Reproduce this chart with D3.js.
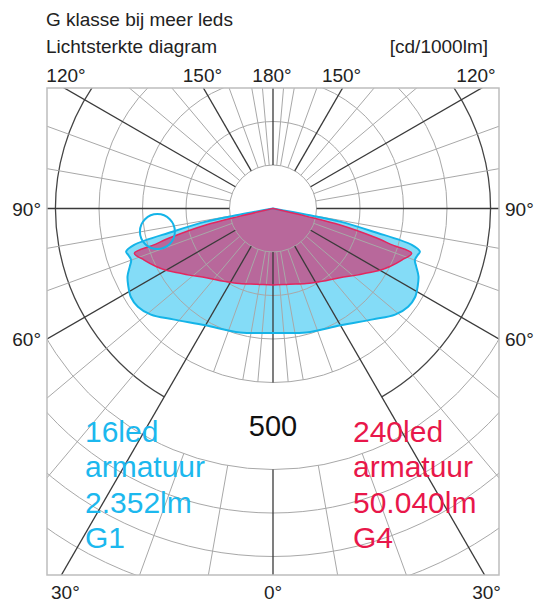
<!DOCTYPE html>
<html>
<head>
<meta charset="utf-8">
<script src="https://cdn.jsdelivr.net/npm/d3@7"></script>
<style>
  body { margin: 0; background: #fff; }
  text { font-family: Arial, "Liberation Sans", sans-serif; }
</style>
</head>
<body>
<div id="chart-area"></div>
<script>
// data: angle from nadir (deg) and intensity (cd/1000lm), symmetric curves
const g1Angles = [0, 15, 30, 42, 49, 54, 58, 62, 65, 68, 70, 72, 73.6, 75.3, 77, 78.9, 79.5, 80]
const g1Values = [286, 295, 310, 343, 372, 384, 385, 377, 369, 355, 347, 349, 352, 330, 237, 157, 79, 0]
const g4Angles = [0, 12, 24, 34, 44, 51.5, 56, 60, 63.6, 68.2, 72.1, 73.0, 74.3, 76.2, 76.9, 77.6]
const g4Values = [176, 178, 189, 202, 221, 246, 264, 284, 300, 319, 335, 288, 240, 159, 80, 0]

const ringValues = [100, 200, 300, 400, 500, 600, 700, 800, 900]
const topLabels = [[-120, "120°"], [-150, "150°"], [180, "180°"], [150, "150°"], [120, "120°"]]
const sideLabels = [[90, "90°"], [60, "60°"]]
const bottomLabels = [[-30, "30°"], [0, "0°"], [30, "30°"]]
const g1Text = ["16led", "armatuur", "2.352lm", "G1"]
const g4Text = ["240led", "armatuur", "50.040lm", "G4"]
const scaleLabel = "500"

// layout
const W = 536, H = 604
const frame = { left: 47, right: 499, top: 88, bottom: 575 }
const cx = 273, cy = 208.5

const svg = d3.select("#chart-area").append("svg")
  .attr("width", W)
  .attr("height", H)

const r = d3.scaleLinear().domain([0, 1000]).range([0, 435])
const rad = d => d * Math.PI / 180

// polar point, angle measured from nadir, positive to the right
const pt = (a, v) => [cx + r(v) * Math.sin(rad(a)), cy + r(v) * Math.cos(rad(a))]

// titles
svg.append("text").attr("x", 46).attr("y", 26).attr("font-size", "19px").attr("fill", "#222")
  .text("G klasse bij meer leds")
svg.append("text").attr("x", 46).attr("y", 53).attr("font-size", "19px").attr("fill", "#222")
  .text("Lichtsterkte diagram")
svg.append("text").attr("x", 488).attr("y", 53).attr("font-size", "19px").attr("fill", "#222")
  .attr("text-anchor", "end").text("[cd/1000lm]")

svg.append("clipPath").attr("id", "frame-clip").append("rect")
  .attr("x", frame.left).attr("y", frame.top)
  .attr("width", frame.right - frame.left).attr("height", frame.bottom - frame.top)

const plot = svg.append("g").attr("clip-path", "url(#frame-clip)")

// curve shapes, mirrored around nadir
const radial = d3.lineRadial()
  .angle(d => d[0])
  .radius(d => r(d[1]))
  .curve(d3.curveCatmullRom.alpha(0.5))

function shape(angles, values) {
  const left = angles.map((a, i) => [Math.PI + rad(a), values[i]]).reverse()
  const right = angles.slice(1).map((a, i) => [Math.PI - rad(a), values[i + 1]])
  return radial(left.concat(right)) + "Z"
}

const curves = plot.append("g").attr("transform", `translate(${cx},${cy})`)
curves.append("path").attr("d", shape(g1Angles, g1Values)).attr("fill", "#84dcf7")
curves.append("path").attr("d", shape(g4Angles, g4Values)).attr("fill", "#b8689b")

// grid circles
const grid = plot.append("g")
ringValues.forEach(v => {
  if (v === 500) {
    // main ring, cut out around the "500" label
    const p = d3.path()
    const a0 = Math.PI / 2 + Math.PI / 6, a1 = Math.PI / 2 - Math.PI / 6 + 2 * Math.PI
    p.moveTo(cx + r(v) * Math.cos(a0), cy + r(v) * Math.sin(a0))
    p.arc(cx, cy, r(v), a0, a1)
    grid.append("path").attr("d", p.toString())
      .attr("fill", "none").attr("stroke", "#444").attr("stroke-width", 1.3)
  } else {
    grid.append("circle").attr("cx", cx).attr("cy", cy).attr("r", r(v))
      .attr("fill", "none").attr("stroke", "#a8a8a8").attr("stroke-width", 1)
  }
})

// spokes
const spokes = d3.range(-170, 190, 10).concat([-175, -5, 5, 175])
spokes.forEach(a => {
  const main = a % 30 === 0
  const inBand = Math.abs(a) < 30
  const segs = inBand ? [[100, 400], [600, 1100]] : [[100, 1100]]
  if (a % 10 !== 0) segs.splice(0, segs.length, [100, 400])
  segs.forEach(s => {
    const p0 = pt(a, s[0]), p1 = pt(a, s[1])
    grid.append("line")
      .attr("x1", p0[0]).attr("y1", p0[1]).attr("x2", p1[0]).attr("y2", p1[1])
      .attr("stroke", main ? "#3a3a3a" : "#a8a8a8")
      .attr("stroke-width", main ? 1.3 : 1)
  })
})

// curve outlines on top of grid
curves.raise()
curves.selectAll("path").remove()
curves.append("path").attr("d", shape(g1Angles, g1Values))
  .attr("fill", "#84dcf7").attr("fill-opacity", 0.0)
  .attr("stroke", "#14b4e8").attr("stroke-width", 2)
curves.append("path").attr("d", shape(g4Angles, g4Values))
  .attr("fill", "none").attr("stroke", "#e3275f").attr("stroke-width", 1.5)

// fills below grid
const fills = plot.insert("g", ":first-child").attr("transform", `translate(${cx},${cy})`)
fills.append("path").attr("d", shape(g1Angles, g1Values)).attr("fill", "#84dcf7")
fills.append("path").attr("d", shape(g4Angles, g4Values)).attr("fill", "#b8689b")

// highlight ring near the G1 shoulder
const hl = pt(-78.7, 271)
svg.append("circle").attr("cx", hl[0]).attr("cy", hl[1]).attr("r", 17.5)
  .attr("fill", "none").attr("stroke", "#14b4e8").attr("stroke-width", 2)

// frame
svg.append("rect")
  .attr("x", frame.left).attr("y", frame.top)
  .attr("width", frame.right - frame.left).attr("height", frame.bottom - frame.top)
  .attr("fill", "none").attr("stroke", "#bdbdbd").attr("stroke-width", 1.5)

// angle labels
const clampX = x => Math.max(frame.left + 19, Math.min(frame.right - 23, x))
topLabels.forEach(([a, t]) => {
  const dy = cy - frame.top
  const x = cx + dy * Math.tan(rad(180 - Math.abs(a))) * Math.sign(a || 1)
  svg.append("text").attr("x", clampX(a === 180 ? cx - 1 : x - 1)).attr("y", 82)
    .attr("font-size", "19px").attr("text-anchor", "middle").attr("fill", "#222").text(t)
})
sideLabels.forEach(([a, t]) => {
  const y = cy + (cx - frame.left) / Math.tan(rad(a))
  svg.append("text").attr("x", 41).attr("y", y + 7)
    .attr("font-size", "19px").attr("text-anchor", "end").attr("fill", "#222").text(t)
  svg.append("text").attr("x", 505).attr("y", y + 7)
    .attr("font-size", "19px").attr("fill", "#222").text(t)
})
bottomLabels.forEach(([a, t]) => {
  const x = cx + (frame.bottom - cy) * Math.tan(rad(a))
  svg.append("text").attr("x", a < 0 ? x + 4 : a > 0 ? x + 2 : x).attr("y", 599)
    .attr("font-size", "19px").attr("text-anchor", "middle").attr("fill", "#222").text(t)
})

// scale value inside the gap of the main ring
svg.append("text").attr("x", cx).attr("y", 436)
  .attr("font-size", "29px").attr("text-anchor", "middle").attr("fill", "#111").text(scaleLabel)

// series captions
svg.append("g").selectAll("text").data(g1Text).join("text")
  .attr("x", 85).attr("y", (d, i) => 442 + i * 35.3)
  .attr("font-size", "30px").attr("fill", "#1cb8ee").text(d => d)
svg.append("g").selectAll("text").data(g4Text).join("text")
  .attr("x", 353).attr("y", (d, i) => 442 + i * 35.3)
  .attr("font-size", "30px").attr("fill", "#e8174a").text(d => d)
</script>
</body>
</html>
